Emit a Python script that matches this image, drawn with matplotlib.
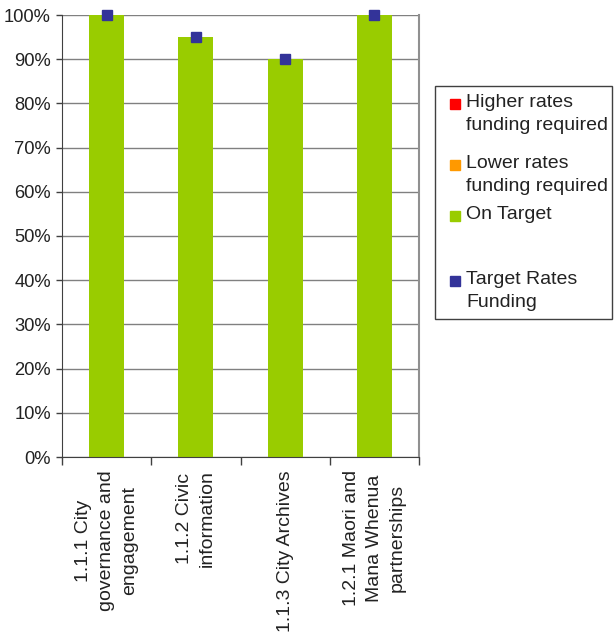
import matplotlib
matplotlib.use("Agg")
import matplotlib.pyplot as plt
from matplotlib.patches import Rectangle
import numpy as np

plt.rcParams['font.family'] = ['Liberation Sans', 'DejaVu Sans']

categories = ["1.1.1 City\ngovernance and\nengagement",
              "1.1.2 Civic\ninformation",
              "1.1.3 City Archives",
              "1.2.1 Maori and\nMana Whenua\npartnerships"]
on_target = [100, 95, 90, 100]
target_rates = [100, 95, 90, 100]
yticks = [0, 10, 20, 30, 40, 50, 60, 70, 80, 90, 100]
legend_labels = ["Higher rates\nfunding required", "Lower rates\nfunding required",
                 "On Target", "Target Rates\nFunding"]
legend_colors = ["#ff0000", "#ff9900", "#99cc00", "#333399"]

W, H = 614, 636
fig = plt.figure(figsize=(W / 100, H / 100), dpi=100)
ax = fig.add_axes([62 / W, 1 - 457 / H, (419 - 62) / W, (457 - 15) / H])

x = np.arange(len(categories))
ax.bar(x, on_target, width=0.39, color="#99cc00", zorder=2)
ax.plot(x, target_rates, linestyle="none", marker="s", markersize=7.8,
        color="#333399", zorder=3, clip_on=False)

ax.set_xlim(-0.5, len(categories) - 0.5)
ax.set_ylim(0, 100)
ax.set_yticks(yticks)
ax.set_yticklabels([f"{v}%" for v in yticks], fontsize=13.2, color="#222222")
ax.yaxis.grid(True, color="#808080", linewidth=1, zorder=0)
ax.set_axisbelow(True)

ax.set_xticks(np.arange(len(categories) + 1) - 0.5)
ax.set_xticklabels([])
ax.tick_params(axis="x", direction="out", length=6, width=1, color="#404040")
ax.tick_params(axis="y", direction="out", length=4, width=1, color="#404040", pad=4)

ax.spines["right"].set_color("#909090")
ax.spines["right"].set_linewidth(1.5)
ax.spines["top"].set_visible(False)
ax.spines["left"].set_color("#404040")
ax.spines["bottom"].set_color("#404040")

for i, c in enumerate(categories):
    ax.text(i, -3, c, rotation=90, ha="center", va="top", fontsize=14,
            multialignment="center", linespacing=1.45, color="#222222")

# Legend box (manual)
def fx(px):
    return px / W

def fy(py):
    return 1 - py / H

fig.patches.append(Rectangle((fx(435), fy(319)), fx(612) - fx(435), fy(86) - fy(319),
                             transform=fig.transFigure, fill=False, edgecolor="#404040",
                             linewidth=1))
mark_y = [104, 165, 216, 281]
for lab, col, my in zip(legend_labels, legend_colors, mark_y):
    fig.patches.append(Rectangle((fx(450), fy(my + 5)), fx(10), 10 / H,
                                 transform=fig.transFigure, color=col))
    fig.text(fx(466), fy(my - 10), lab, ha="left", va="top", fontsize=14,
             linespacing=1.45, color="#222222")

fig.savefig("out.png", dpi=100)
